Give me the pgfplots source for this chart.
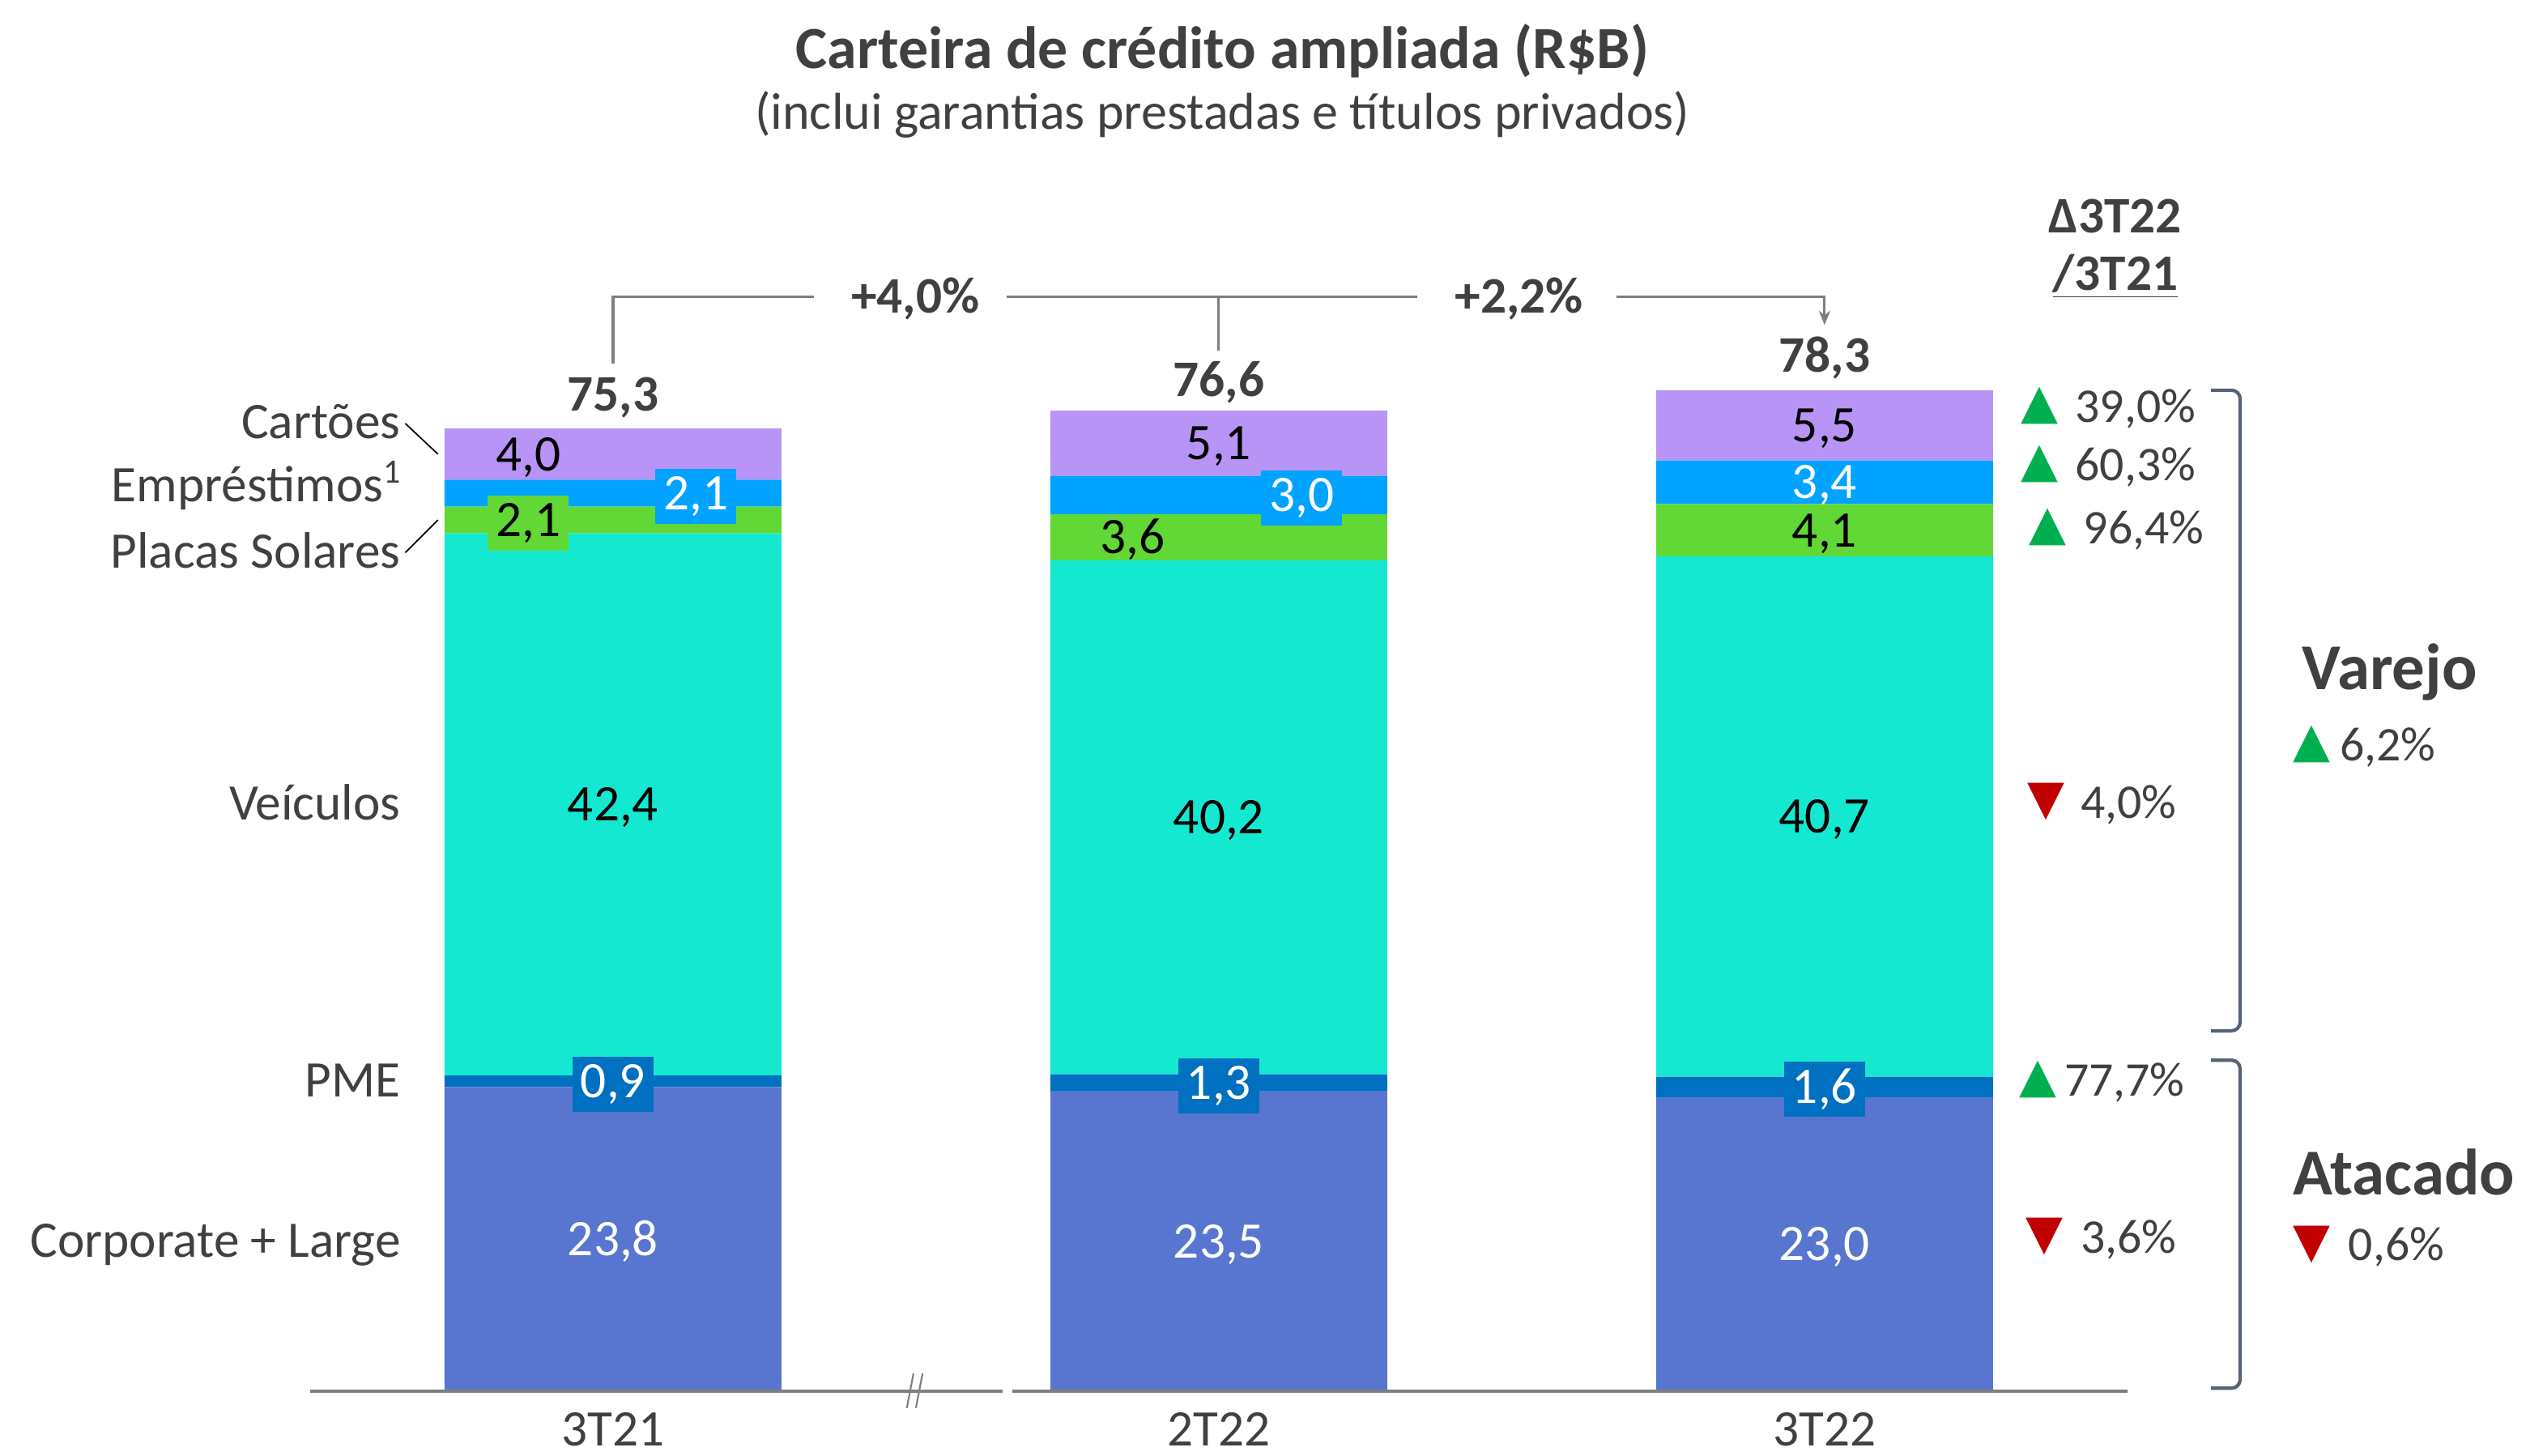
\documentclass[border=0pt]{standalone}
\usepackage{fontspec}
\setmainfont{Carlito}
\newfontfamily\symfont{DejaVu Sans}
\usepackage{pgfplots}
\pgfplotsset{compat=1.18}
\usetikzlibrary{arrows.meta}
\definecolor{txt}{HTML}{404040}
\definecolor{corp}{HTML}{5875D0}
\definecolor{pme}{HTML}{0070C0}
\definecolor{veic}{HTML}{15E8D0}
\definecolor{placas}{HTML}{62D836}
\definecolor{empr}{HTML}{00A3FF}
\definecolor{cart}{HTML}{B794F6}
\definecolor{up}{HTML}{00B050}
\definecolor{down}{HTML}{C00000}
\definecolor{brk}{HTML}{56627A}
\definecolor{axgray}{HTML}{7F7F7F}
\tikzset{
  lab/.style={font=\fontsize{18}{21}\selectfont, text=txt, inner sep=0pt, yshift=-0.12cm},
  val/.style={font=\fontsize{18}{21}\selectfont, inner sep=0pt, anchor=mid, yshift=-0.12cm},
  box/.style={minimum width=1.0cm, minimum height=0.68cm},
  bld/.style={font=\fontsize{18}{21}\bfseries\selectfont, text=txt, inner sep=0pt, anchor=mid, yshift=-0.12cm},
  pct/.style={font=\fontsize{17}{20}\selectfont, text=txt, inner sep=0pt, anchor=mid west, yshift=-0.12cm},
  tri/.style={font=\symfont\fontsize{17}{19}\selectfont, inner sep=0pt, anchor=center},
  conn/.style={draw=axgray, line width=0.9pt},
}
\begin{document}
\begin{tikzpicture}
\begin{axis}[
  set layers,
  scale only axis, width=22.44cm, height=12.632cm,
  xmin=-0.5, xmax=2.5, ymin=0, ymax=80,
  ybar stacked, bar width=4.16cm,
  axis y line=none, axis x line*=bottom,
  x axis line style={draw=none},
  xtick={0,1,2}, xticklabels={3T21,2T22,3T22},
  major tick length=0pt,
  xticklabel style={font=\fontsize{18}{21}\selectfont, text=txt, anchor=center, yshift=-0.47cm, inner sep=0pt},
  clip=false,
]
\addplot[fill=corp, draw=none, on layer=axis background] coordinates {(0,23.8) (1,23.5) (2,23.0)};
\addplot[fill=pme, draw=none, on layer=axis background] coordinates {(0,0.9) (1,1.3) (2,1.6)};
\addplot[fill=veic, draw=none, on layer=axis background] coordinates {(0,42.4) (1,40.2) (2,40.7)};
\addplot[fill=placas, draw=none, on layer=axis background] coordinates {(0,2.1) (1,3.6) (2,4.1)};
\addplot[fill=empr, draw=none, on layer=axis background] coordinates {(0,2.1) (1,3.0) (2,3.4)};
\addplot[fill=cart, draw=none, on layer=axis background] coordinates {(0,4.0) (1,5.1) (2,5.5)};

% baseline with break
\draw[draw=axgray, line width=1.1pt] (-0.5,0) -- (0.6436,0);
\draw[draw=axgray, line width=1.1pt] (0.6596,0) -- (2.5,0);
\draw[draw=axgray, line width=0.6pt] (0.485,-1.3) -- (0.496,1.4);
\draw[draw=axgray, line width=0.6pt] (0.500,-1.3) -- (0.511,1.4);

% segment values
\node[val, text=white] at (0,11.9) {23,8};
\node[val, text=white] at (1,11.75) {23,5};
\node[val, text=white] at (2,11.5) {23,0};
\node[val, text=white, fill=pme, box] at (0,24.25) {0,9};
\node[val, text=white, fill=pme, box] at (1,24.15) {1,3};
\node[val, text=white, fill=pme, box] at (2,23.8) {1,6};
\node[val, text=black] at (0,45.9) {42,4};
\node[val, text=black] at (1,44.9) {40,2};
\node[val, text=black] at (2,44.95) {40,7};
\node[val, text=black, fill=placas, box] at (-0.14,68.15) {2,1};
\node[val, text=black] at (0.858,66.8) {3,6};
\node[val, text=black] at (2,67.35) {4,1};
\node[val, text=white, fill=empr, box] at (0.137,70.25) {2,1};
\node[val, text=white, fill=empr, box] at (1.137,70.1) {3,0};
\node[val, text=white] at (2,71.1) {3,4};
\node[val, text=black] at (-0.14,73.3) {4,0};
\node[val, text=black] at (1,74.15) {5,1};
\node[val, text=black] at (2,75.55) {5,5};

% totals
\node[bld] at (0,77.95) {75,3};
\node[bld] at (1,79.1) {76,6};
\node[bld] at (2,81.0) {78,3};

% growth connector
\draw[conn] (0,80.35) -- (0,85.6) -- (0.331,85.6);
\draw[conn] (0.650,85.6) -- (1.328,85.6);
\draw[conn] (1,85.6) -- (1,81.4);
\draw[conn, -{Stealth[length=5pt,width=4pt]}] (1.656,85.6) -- (2,85.6) -- (2,83.4);
\node[bld] at (0.499,85.6) {+4,0\%};
\node[bld] at (1.496,85.6) {+2,2\%};

% left labels
\node[lab, anchor=mid east] at (-0.35,75.8) {Cartões};
\node[lab, anchor=mid east] at (-0.35,70.9) {Empréstimos\raisebox{0.75ex}{\fontsize{12}{13}\selectfont 1}};
\node[lab, anchor=mid east] at (-0.35,65.7) {Placas Solares};
\node[lab, anchor=mid east] at (-0.35,46.0) {Veículos};
\node[lab, anchor=mid east] at (-0.35,24.3) {PME};
\node[lab, anchor=mid east] at (-0.35,11.8) {Corporate + Large};
\draw[black, line width=0.5pt] (-0.343,75.7) -- (-0.289,73.3);
\draw[black, line width=0.5pt] (-0.343,65.6) -- (-0.289,68.15);

% right header
\node[bld] at (2.480,91.9) {Δ3T22};
\node[bld] at (2.480,87.4) {\underline{/3T21}};

% right percentages
\node[tri, text=up] at (2.355,77.1) {▲};
\node[pct] at (2.413,77.1) {39,0\%};
\node[tri, text=up] at (2.355,72.5) {▲};
\node[pct] at (2.413,72.5) {60,3\%};
\node[tri, text=up] at (2.368,67.6) {▲};
\node[pct] at (2.427,67.6) {96,4\%};
\node[tri, text=down] at (2.366,46.1) {▼};
\node[pct] at (2.422,46.1) {4,0\%};
\node[tri, text=up] at (2.352,24.4) {▲};
\node[pct] at (2.395,24.4) {77,7\%};
\node[tri, text=down] at (2.363,12.1) {▼};
\node[pct] at (2.422,12.1) {3,6\%};

% brackets
\draw[draw=brk, line width=1.2pt, rounded corners=3pt] (2.638,78.3) -- (2.686,78.3) -- (2.686,28.2) -- (2.638,28.2);
\draw[draw=brk, line width=1.2pt, rounded corners=3pt] (2.638,25.9) -- (2.686,25.9) -- (2.686,0.25) -- (2.638,0.25);

\node[font=\fontsize{23}{26}\bfseries\selectfont, text=txt, inner sep=0pt, anchor=mid, yshift=-0.17cm] at (2.933,56.5) {Varejo};
\node[tri, text=up] at (2.804,50.6) {▲};
\node[pct] at (2.85,50.6) {6,2\%};
\node[font=\fontsize{23}{26}\bfseries\selectfont, text=txt, inner sep=0pt, anchor=mid, yshift=-0.17cm] at (2.956,17.0) {Atacado};
\node[tri, text=down] at (2.804,11.5) {▼};
\node[pct] at (2.864,11.5) {0,6\%};

% title
\node[font=\fontsize{21}{24}\bfseries\selectfont, text=txt, inner sep=0pt, anchor=mid, yshift=-0.16cm] at (1.006,105.0) {Carteira de crédito ampliada (R\$B)};
\node[font=\fontsize{18.2}{21}\selectfont, text=txt, inner sep=0pt, anchor=mid, yshift=-0.12cm] at (1.006,100.0) {(inclui garantias prestadas e títulos privados)};

\coordinate (BL) at (-1.012,-5.04);
\coordinate (TR) at (3.158,108.82);
\end{axis}
\pgfresetboundingbox
\useasboundingbox (BL) rectangle (TR);
\end{tikzpicture}
\end{document}
